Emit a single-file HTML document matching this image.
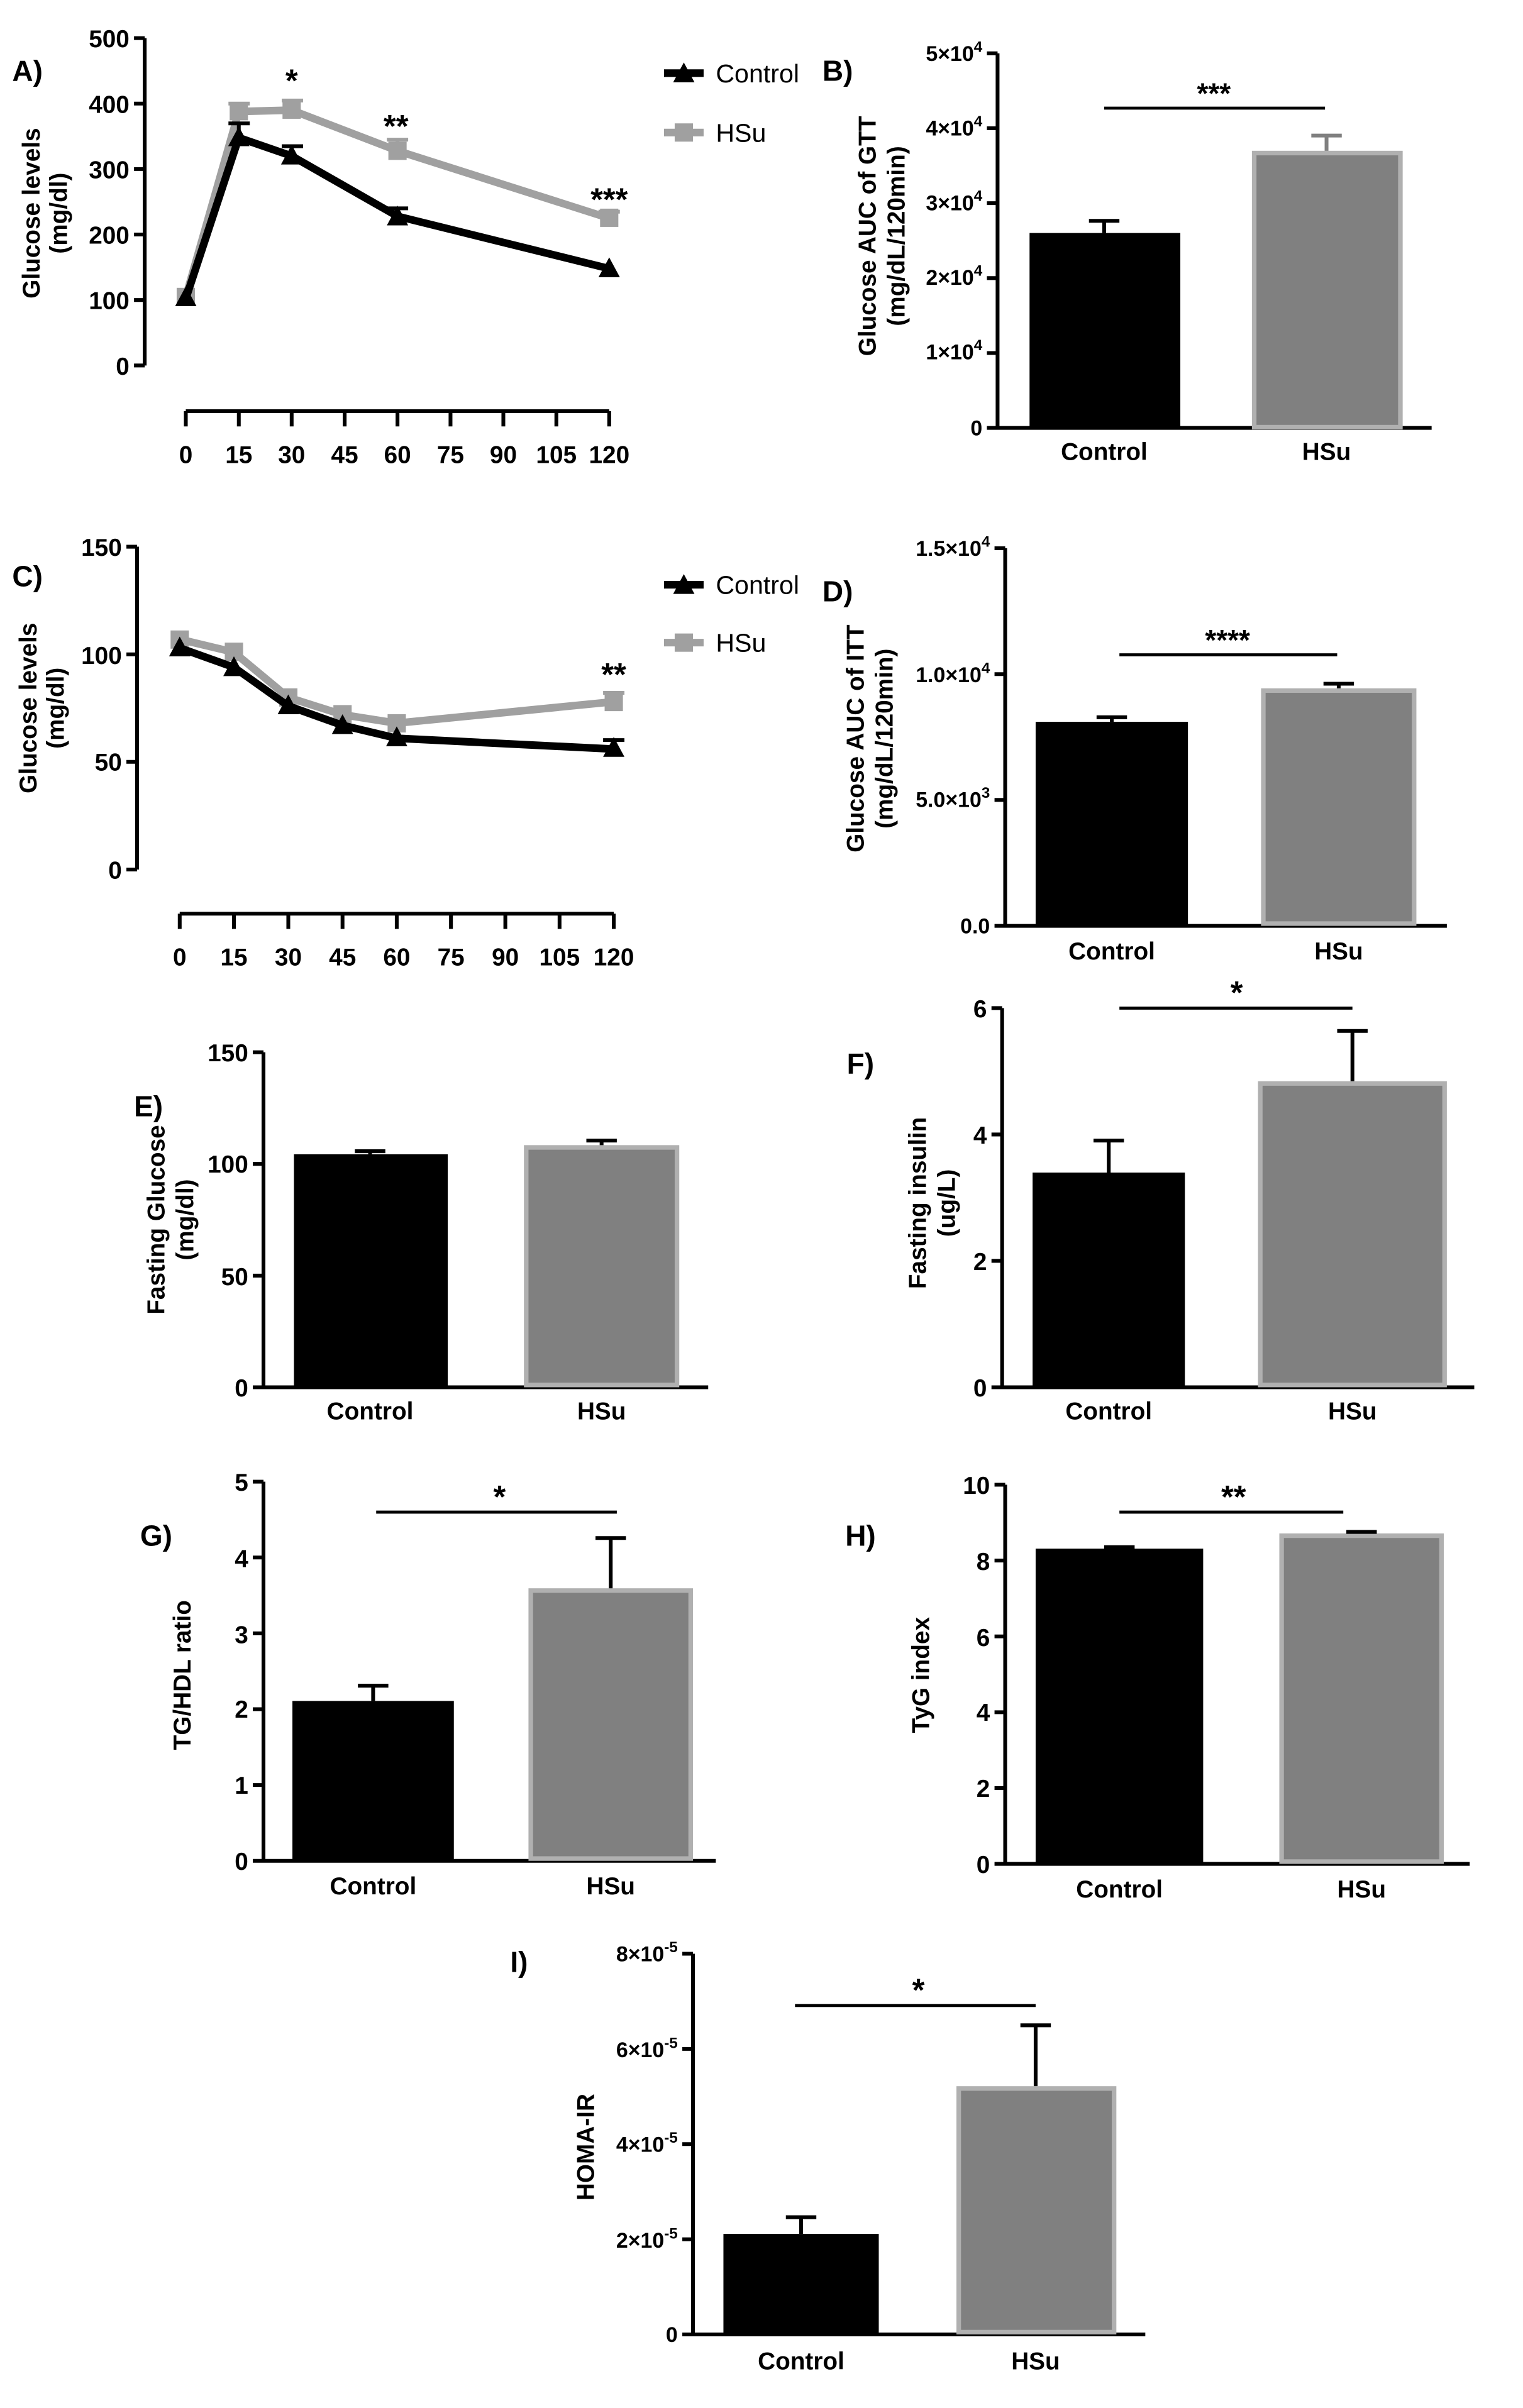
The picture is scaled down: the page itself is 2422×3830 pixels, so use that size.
<!DOCTYPE html>
<html><head><meta charset="utf-8"><style>html,body{margin:0;padding:0;background:#fff}svg{display:block}</style></head><body>
<svg width="2422" height="3830" viewBox="0 0 1000 1581.3" xmlns="http://www.w3.org/2000/svg" font-family="Liberation Sans, Arial, sans-serif" font-weight="bold">
<rect width="1000" height="1582" fill="#fff"/>
<g font-size="19"><text x="8" y="53">A)</text><text x="540" y="53">B)</text><text x="8" y="385">C)</text><text x="540" y="395">D)</text><text x="88" y="733">E)</text><text x="556" y="705">F)</text><text x="92" y="1015">G)</text><text x="555" y="1015">H)</text><text x="335" y="1295">I)</text></g>

<!-- Panel A -->
<g stroke="#000" stroke-width="2.5" fill="none">
<path d="M95 25V240M88 25H95M88 68H95M88 111H95M88 154H95M88 197H95M88 240H95"/>
<path d="M122 270H400M122 270v10M156.8 270v10M191.5 270v10M226.3 270v10M261 270v10M295.8 270v10M330.5 270v10M365.3 270v10M400 270v10"/>
</g>
<g font-size="16" text-anchor="end"><text x="85" y="31">500</text><text x="85" y="74">400</text><text x="85" y="117">300</text><text x="85" y="160">200</text><text x="85" y="203">100</text><text x="85" y="246">0</text></g>
<g font-size="16" text-anchor="middle"><text x="122" y="304">0</text><text x="156.8" y="304">15</text><text x="191.5" y="304">30</text><text x="226.3" y="304">45</text><text x="261" y="304">60</text><text x="295.8" y="304">75</text><text x="330.5" y="304">90</text><text x="365.3" y="304">105</text><text x="400" y="304">120</text></g>
<g font-size="16" text-anchor="middle" transform="rotate(-90)"><text x="-140" y="26">Glucose levels</text><text x="-140" y="44">(mg/dl)</text></g>
<g stroke="#a0a0a0" stroke-width="2.5" fill="none"><path d="M156.8 73V68M150 68h14M191.5 72V66M185 66h14M261 99V91.7M254 91.7h14M400 143V139M393 139h14"/></g>
<polyline points="122,194.9 156.8,73.2 191.5,72.3 261,99 400,143.3" fill="none" stroke="#a0a0a0" stroke-width="5"/>
<g fill="#a0a0a0"><rect x="116" y="189" width="12" height="12"/><rect x="150.8" y="67" width="12" height="12"/><rect x="185.5" y="66" width="12" height="12"/><rect x="255" y="93" width="12" height="12"/><rect x="394" y="137" width="12" height="12"/></g>
<g stroke="#000" stroke-width="2.5" fill="none"><path d="M156.8 90V81M150 81h14M191.5 102V96M185 96h14M261 142V136.8M254 136.8h14"/></g>
<polyline points="122,196.1 156.8,90.4 191.5,102.4 261,142 400,176.4" fill="none" stroke="#000" stroke-width="5"/>
<g fill="#000"><path d="M122 188l7 13h-14z"/><path d="M156.8 83l7 13h-14z"/><path d="M191.5 95l7 13h-14z"/><path d="M261 135l7 13h-14z"/><path d="M400 169l7 13h-14z"/></g>
<g font-size="21" text-anchor="middle"><text x="191.5" y="60">*</text><text x="260" y="90">**</text><text x="400" y="138">***</text></g>
<path d="M436 48h26" stroke="#000" stroke-width="5"/><path d="M449 41l7 13h-14z"/><text x="470" y="54" font-size="17" font-weight="normal">Control</text>
<path d="M436 87h26" stroke="#a0a0a0" stroke-width="5"/><rect x="443" y="81" width="12" height="12" fill="#a0a0a0"/><text x="470" y="93" font-size="17" font-weight="normal">HSu</text>

<!-- Panel B -->
<g stroke="#000" stroke-width="2.5" fill="none"><path d="M655 35V281H940M648 35h7M648 84.2h7M648 133.4h7M648 182.6h7M648 231.8h7M648 281h7"/></g>
<g font-size="14" text-anchor="end"><text x="645" y="40">5×10<tspan font-size="10" dy="-6">4</tspan></text><text x="645" y="89">4×10<tspan font-size="10" dy="-6">4</tspan></text><text x="645" y="138">3×10<tspan font-size="10" dy="-6">4</tspan></text><text x="645" y="187">2×10<tspan font-size="10" dy="-6">4</tspan></text><text x="645" y="236">1×10<tspan font-size="10" dy="-6">4</tspan></text><text x="645" y="286">0</text></g>
<rect x="676" y="153" width="99" height="128" fill="#000"/>
<rect x="823.5" y="100.5" width="96" height="180" fill="#808080" stroke="#b0b0b0" stroke-width="3"/>
<path d="M725 153V145M715 145h20" stroke="#000" stroke-width="2.5"/>
<path d="M871 99V89M861 89h20" stroke="#808080" stroke-width="2.5"/>
<path d="M725 71H870" stroke="#000" stroke-width="2"/><text x="797" y="68" font-size="19" text-anchor="middle">***</text>
<g font-size="16" text-anchor="middle"><text x="725" y="302">Control</text><text x="871" y="302">HSu</text></g>
<g font-size="16" text-anchor="middle" transform="rotate(-90)"><text x="-155" y="575">Glucose AUC of GTT</text><text x="-155" y="594">(mg/dL/120min)</text></g>

<!-- Panel C -->
<g stroke="#000" stroke-width="2.5" fill="none">
<path d="M90 359V571M83 359H90M83 429.7H90M83 500.3H90M83 571H90"/>
<path d="M118 600H403M118 600v10M153.6 600v10M189.3 600v10M224.9 600v10M260.5 600v10M296.1 600v10M331.8 600v10M367.4 600v10M403 600v10"/>
</g>
<g font-size="16" text-anchor="end"><text x="80" y="365">150</text><text x="80" y="436">100</text><text x="80" y="506">50</text><text x="80" y="577">0</text></g>
<g font-size="16" text-anchor="middle"><text x="118" y="634">0</text><text x="153.6" y="634">15</text><text x="189.3" y="634">30</text><text x="224.9" y="634">45</text><text x="260.5" y="634">60</text><text x="296.1" y="634">75</text><text x="331.8" y="634">90</text><text x="367.4" y="634">105</text><text x="403" y="634">120</text></g>
<g font-size="16" text-anchor="middle" transform="rotate(-90)"><text x="-465" y="24">Glucose levels</text><text x="-465" y="42">(mg/dl)</text></g>
<path d="M403 460V455M396 455h14" stroke="#a0a0a0" stroke-width="2.5"/>
<polyline points="118,419.8 153.6,428.3 189.3,458 224.9,469.3 260.5,474.9 403,460.8" fill="none" stroke="#a0a0a0" stroke-width="5"/>
<g fill="#a0a0a0"><rect x="112" y="414" width="12" height="12"/><rect x="147.6" y="422" width="12" height="12"/><rect x="183.3" y="452" width="12" height="12"/><rect x="218.9" y="463" width="12" height="12"/><rect x="254.5" y="469" width="12" height="12"/><rect x="397" y="455" width="12" height="12"/></g>
<path d="M403 492V486M396 486h14" stroke="#000" stroke-width="2.5"/>
<polyline points="118,425.5 153.6,438.2 189.3,463.6 224.9,476.3 260.5,484.8 403,491.9" fill="none" stroke="#000" stroke-width="5"/>
<g><path d="M118 418l7 13h-14z"/><path d="M153.6 431l7 13h-14z"/><path d="M189.3 456l7 13h-14z"/><path d="M224.9 469l7 13h-14z"/><path d="M260.5 477l7 13h-14z"/><path d="M403 484l7 13h-14z"/></g>
<text x="403" y="450" font-size="21" text-anchor="middle">**</text>
<path d="M436 384h26" stroke="#000" stroke-width="5"/><path d="M449 377l7 13h-14z"/><text x="470" y="390" font-size="17" font-weight="normal">Control</text>
<path d="M436 422h26" stroke="#a0a0a0" stroke-width="5"/><rect x="443" y="416" width="12" height="12" fill="#a0a0a0"/><text x="470" y="428" font-size="17" font-weight="normal">HSu</text>

<!-- Panel D -->
<g stroke="#000" stroke-width="2.5" fill="none"><path d="M660 360V608H950M653 360h7M653 442.7h7M653 525.3h7M653 608h7"/></g>
<g font-size="14" text-anchor="end"><text x="650" y="365">1.5×10<tspan font-size="10" dy="-6">4</tspan></text><text x="650" y="448">1.0×10<tspan font-size="10" dy="-6">4</tspan></text><text x="650" y="530">5.0×10<tspan font-size="10" dy="-6">3</tspan></text><text x="650" y="613">0.0</text></g>
<rect x="680" y="474" width="100" height="134" fill="#000"/>
<rect x="829.5" y="453.5" width="99" height="153" fill="#808080" stroke="#b0b0b0" stroke-width="3"/>
<path d="M730 474V471M720 471h20M879 452V449M869 449h20" stroke="#000" stroke-width="2.5"/>
<path d="M735 430H878" stroke="#000" stroke-width="2"/><text x="806" y="427" font-size="19" text-anchor="middle">****</text>
<g font-size="16" text-anchor="middle"><text x="730" y="630">Control</text><text x="879" y="630">HSu</text></g>
<g font-size="16" text-anchor="middle" transform="rotate(-90)"><text x="-485" y="567">Glucose AUC of ITT</text><text x="-485" y="586">(mg/dL/120min)</text></g>

<!-- Panel E -->
<g stroke="#000" stroke-width="2.5" fill="none"><path d="M173 691V911H465M166 691h7M166 764.3h7M166 837.7h7M166 911h7"/></g>
<g font-size="16" text-anchor="end"><text x="163" y="697">150</text><text x="163" y="770">100</text><text x="163" y="844">50</text><text x="163" y="917">0</text></g>
<rect x="193" y="758" width="101" height="153" fill="#000"/>
<rect x="345.5" y="753.5" width="99" height="156" fill="#808080" stroke="#b0b0b0" stroke-width="3"/>
<path d="M243 758V756M233 756h20M395 752V749M385 749h20" stroke="#000" stroke-width="2.5"/>
<g font-size="16" text-anchor="middle"><text x="243" y="932">Control</text><text x="395" y="932">HSu</text></g>
<g font-size="16" text-anchor="middle" transform="rotate(-90)"><text x="-801" y="108">Fasting Glucose</text><text x="-801" y="127">(mg/dl)</text></g>

<!-- Panel F -->
<g stroke="#000" stroke-width="2.5" fill="none"><path d="M658 662V911H968M651 662h7M651 745h7M651 828h7M651 911h7"/></g>
<g font-size="16" text-anchor="end"><text x="648" y="668">6</text><text x="648" y="751">4</text><text x="648" y="834">2</text><text x="648" y="917">0</text></g>
<rect x="678" y="770" width="100" height="141" fill="#000"/>
<rect x="827.5" y="711.5" width="121" height="198" fill="#808080" stroke="#b0b0b0" stroke-width="3"/>
<path d="M728 770V749M718 749h20M888 710V677M878 677h20" stroke="#000" stroke-width="2.5"/>
<path d="M735 662H888" stroke="#000" stroke-width="2"/><text x="812" y="659" font-size="21" text-anchor="middle">*</text>
<g font-size="16" text-anchor="middle"><text x="728" y="932">Control</text><text x="888" y="932">HSu</text></g>
<g font-size="16" text-anchor="middle" transform="rotate(-90)"><text x="-790" y="608">Fasting insulin</text><text x="-790" y="627">(ug/L)</text></g>

<!-- Panel G -->
<g stroke="#000" stroke-width="2.5" fill="none"><path d="M173 973V1222H470M166 973h7M166 1022.8h7M166 1072.6h7M166 1122.4h7M166 1172.2h7M166 1222h7"/></g>
<g font-size="16" text-anchor="end"><text x="163" y="979">5</text><text x="163" y="1029">4</text><text x="163" y="1079">3</text><text x="163" y="1128">2</text><text x="163" y="1178">1</text><text x="163" y="1228">0</text></g>
<rect x="192" y="1117" width="106" height="105" fill="#000"/>
<rect x="348.5" y="1044.5" width="105" height="176" fill="#808080" stroke="#b0b0b0" stroke-width="3"/>
<path d="M245 1117V1107M235 1107h20M401 1043V1010M391 1010h20" stroke="#000" stroke-width="2.5"/>
<path d="M247 993H405" stroke="#000" stroke-width="2"/><text x="328" y="990" font-size="21" text-anchor="middle">*</text>
<g font-size="16" text-anchor="middle"><text x="245" y="1244">Control</text><text x="401" y="1244">HSu</text></g>
<g font-size="16" text-anchor="middle" transform="rotate(-90)"><text x="-1100" y="125">TG/HDL ratio</text></g>

<!-- Panel H -->
<g stroke="#000" stroke-width="2.5" fill="none"><path d="M660 975V1224H965M653 975h7M653 1024.8h7M653 1074.6h7M653 1124.4h7M653 1174.2h7M653 1224h7"/></g>
<g font-size="16" text-anchor="end"><text x="650" y="981">10</text><text x="650" y="1031">8</text><text x="650" y="1081">6</text><text x="650" y="1130">4</text><text x="650" y="1180">2</text><text x="650" y="1230">0</text></g>
<rect x="680" y="1017" width="110" height="207" fill="#000"/>
<rect x="841.5" y="1008.5" width="105" height="214" fill="#808080" stroke="#b0b0b0" stroke-width="3"/>
<path d="M735 1017V1016M725 1016h20M894 1007V1006M884 1006h20" stroke="#000" stroke-width="2.5"/>
<path d="M735 993H882" stroke="#000" stroke-width="2"/><text x="810" y="990" font-size="21" text-anchor="middle">**</text>
<g font-size="16" text-anchor="middle"><text x="735" y="1246">Control</text><text x="894" y="1246">HSu</text></g>
<g font-size="16" text-anchor="middle" transform="rotate(-90)"><text x="-1100" y="610">TyG index</text></g>

<!-- Panel I -->
<g stroke="#000" stroke-width="2.5" fill="none"><path d="M455 1283V1533H752M448 1283h7M448 1345.5h7M448 1408h7M448 1470.5h7M448 1533h7"/></g>
<g font-size="14" text-anchor="end"><text x="445" y="1288">8×10<tspan font-size="10" dy="-6">-5</tspan></text><text x="445" y="1351">6×10<tspan font-size="10" dy="-6">-5</tspan></text><text x="445" y="1413">4×10<tspan font-size="10" dy="-6">-5</tspan></text><text x="445" y="1476">2×10<tspan font-size="10" dy="-6">-5</tspan></text><text x="445" y="1538">0</text></g>
<rect x="475" y="1467" width="102" height="66" fill="#000"/>
<rect x="629.5" y="1371.5" width="102" height="160" fill="#808080" stroke="#b0b0b0" stroke-width="3"/>
<path d="M526 1467V1456M516 1456h20M680 1370V1330M670 1330h20" stroke="#000" stroke-width="2.5"/>
<path d="M522 1317H680" stroke="#000" stroke-width="2"/><text x="603" y="1314" font-size="21" text-anchor="middle">*</text>
<g font-size="16" text-anchor="middle"><text x="526" y="1556">Control</text><text x="680" y="1556">HSu</text></g>
<g font-size="16" text-anchor="middle" transform="rotate(-90)"><text x="-1410" y="390">HOMA-IR</text></g>
</svg>
</body></html>
